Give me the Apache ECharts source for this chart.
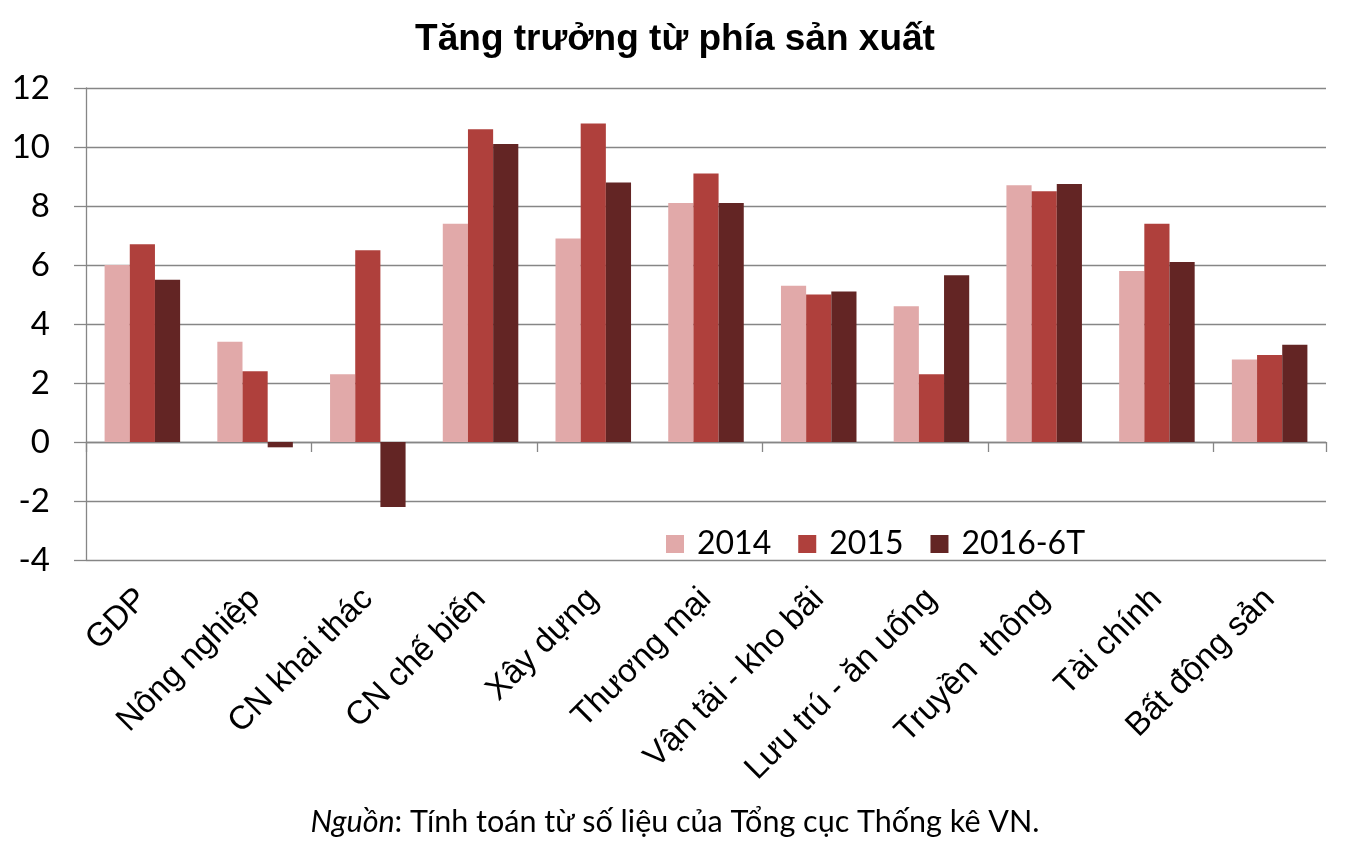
<!DOCTYPE html>
<html>
<head>
<meta charset="utf-8">
<script src="https://cdn.jsdelivr.net/npm/echarts@6/dist/echarts.min.js"></script>
<style>
html,body{margin:0;padding:0;background:#fff;}
#c{width:1350px;height:854px;}
</style>
</head>
<body>
<div id="c"></div>
<script>
const categories = ['GDP','Nông nghiệp','CN khai thác','CN chế biến','Xây dựng','Thương mại','Vận tải - kho bãi','Lưu trú - ăn uống','Truyền  thông','Tài chính','Bất động sản'];
const seriesNames = ['2014','2015','2016-6T'];
const v2014 = [6.0, 3.4, 2.3, 7.4, 6.9, 8.1, 5.3, 4.6, 8.7, 5.8, 2.8];
const v2015 = [6.7, 2.4, 6.5, 10.6, 10.8, 9.1, 5.0, 2.3, 8.5, 7.4, 2.95];
const v2016 = [5.5, -0.18, -2.2, 10.1, 8.8, 8.1, 5.1, 5.65, 8.75, 6.1, 3.3];
const yMin = -4, yMax = 12, yStep = 2;
const titleText = 'Tăng trưởng từ phía sản xuất';
const sourceLabel = 'Nguồn';
const sourceText = ': Tính toán từ số liệu của Tổng cục Thống kê VN.';

const colors = ['#E1A9A9', '#AF403C', '#632524'];
const gray = '#868686';

const chart = echarts.init(document.getElementById('c'), null, {renderer: 'canvas'});
chart.setOption({
  animation: false,
  backgroundColor: '#fff',
  title: [
    {
      text: titleText,
      left: 'center',
      top: 16,
      textStyle: {fontFamily: 'Liberation Sans, Arial', fontWeight: 'bold', fontSize: 37, color: '#000'}
    },
    {
      text: '{i|' + sourceLabel + '}{n|' + sourceText + '}',
      left: 'center',
      top: 802,
      textStyle: {
        fontWeight: 'normal',
        rich: {
          i: {fontFamily: 'Lato', fontStyle: 'italic', fontWeight: 'normal', fontSize: 30.5, color: '#000'},
          n: {fontFamily: 'Lato', fontWeight: 'normal', fontSize: 30.5, color: '#000'}
        }
      }
    }
  ],
  legend: {
    data: seriesNames,
    left: 661,
    top: 523,
    icon: 'rect',
    itemWidth: 18,
    itemHeight: 18,
    itemGap: 27,
    textStyle: {fontFamily: 'Lato', fontSize: 32, color: '#000', padding: [0, 0, 0, 8]}
  },
  grid: {left: 86, right: 24, top: 88, bottom: 294, containLabel: false},
  xAxis: [
    {
      type: 'category',
      data: categories,
      position: 'bottom',
      axisLine: {show: true, onZero: true, lineStyle: {color: gray, width: 1.3}},
      axisTick: {show: true, length: 10, lineStyle: {color: gray, width: 1.3}},
      axisLabel: {show: false},
      splitLine: {show: false}
    },
    {
      type: 'category',
      data: categories,
      position: 'bottom',
      axisLine: {show: false, onZero: false},
      axisTick: {show: false},
      axisLabel: {
        show: true,
        interval: 0,
        rotate: 45,
        margin: 34,
        fontFamily: 'Liberation Sans, Arial',
        fontSize: 33,
        color: '#000'
      },
      splitLine: {show: false}
    }
  ],
  yAxis: {
    type: 'value',
    min: yMin,
    max: yMax,
    interval: yStep,
    axisLine: {show: true, lineStyle: {color: gray, width: 1.3}},
    axisTick: {show: true, length: 12, lineStyle: {color: gray, width: 1.3}},
    axisLabel: {fontFamily: 'Lato', fontSize: 33, color: '#000', margin: 36},
    splitLine: {show: true, lineStyle: {color: gray, width: 1.3}}
  },
  series: [
    {name: seriesNames[0], type: 'bar', data: v2014, itemStyle: {color: colors[0]}, barGap: '0%', barCategoryGap: '33%'},
    {name: seriesNames[1], type: 'bar', data: v2015, itemStyle: {color: colors[1]}, barGap: '0%', barCategoryGap: '33%'},
    {name: seriesNames[2], type: 'bar', data: v2016, itemStyle: {color: colors[2]}, barGap: '0%', barCategoryGap: '33%'}
  ]
});
</script>
</body>
</html>
